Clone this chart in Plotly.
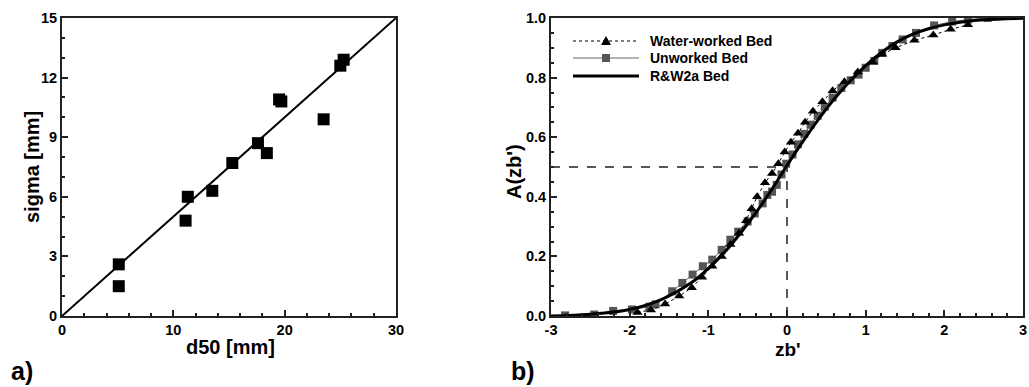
import plotly.graph_objects as go

# ---------------- Panel a data ----------------
d50 = [5.1, 5.1, 11.1, 11.3, 13.5, 15.3, 17.6, 18.4, 19.5, 19.7, 23.5, 25.0, 25.3]
sigma = [2.6, 1.5, 4.8, 6.0, 6.3, 7.7, 8.7, 8.2, 10.9, 10.8, 9.9, 12.6, 12.9]
fit_x = [0, 30]
fit_y = [0, 15]
a_xticks = [0, 10, 20, 30]
a_yticks = [0, 3, 6, 9, 12, 15]

# ---------------- Panel b data ----------------
ww_zb = [-1.90, -1.73, -1.55, -1.37, -1.21, -1.08, -0.95, -0.83, -0.72, -0.61, -0.52,
         -0.45, -0.38, -0.28, -0.19, -0.11, -0.03, 0.05, 0.14, 0.23, 0.33, 0.45, 0.58,
         0.73, 0.90, 1.09, 1.21, 1.38, 1.62, 1.86, 2.08, 2.30]
ww_A = [0.012, 0.02, 0.04, 0.067, 0.095, 0.13, 0.167, 0.20, 0.24, 0.278, 0.32,
        0.36, 0.40, 0.447, 0.478, 0.511, 0.55, 0.583, 0.613, 0.65, 0.687, 0.719, 0.756,
        0.786, 0.819, 0.852, 0.878, 0.90, 0.925, 0.943, 0.962, 0.977]

uw_zb = [-2.82, -2.45, -2.21, -1.97, -1.75, -1.67, -1.46, -1.33, -1.20, -1.07, -0.95,
         -0.83, -0.72, -0.62, -0.50, -0.41, -0.31, -0.25, -0.19, -0.13, -0.07, -0.01,
         0.07, 0.14, 0.22, 0.30, 0.39, 0.48, 0.58, 0.69, 0.81, 0.91, 1.00, 1.11, 1.21,
         1.34, 1.47, 1.64, 1.87, 2.10, 2.30, 2.55]
uw_A = [0.002, 0.005, 0.017, 0.022, 0.031, 0.039, 0.083, 0.111, 0.139, 0.167, 0.189,
        0.222, 0.256, 0.283, 0.317, 0.344, 0.378, 0.406, 0.417, 0.44, 0.475, 0.511,
        0.542, 0.576, 0.611, 0.642, 0.672, 0.702, 0.733, 0.765, 0.791, 0.81, 0.833,
        0.856, 0.883, 0.906, 0.928, 0.95, 0.975, 0.988, 0.995, 1.0]

rw_zb = [-3.0, -2.5, -2.0, -1.6, -1.2, -1.0, -0.8, -0.6, -0.4, -0.2, 0.0, 0.2, 0.4,
         0.6, 0.8, 1.0, 1.2, 1.4, 1.6, 1.8, 2.0, 2.2, 2.5, 3.0]
rw_A = [0.0, 0.006, 0.022, 0.055, 0.115, 0.16, 0.212, 0.275, 0.345, 0.422, 0.505, 0.585,
        0.66, 0.728, 0.788, 0.84, 0.884, 0.92, 0.946, 0.964, 0.977, 0.986, 0.994, 0.999]

ref_level = [0.5]
ref_zb = [0.0]
b_xticks = [-3, -2, -1, 0, 1, 2, 3]
b_yticks = [0.0, 0.2, 0.4, 0.6, 0.8, 1.0]
b_yticklabels = ["0.0", "0.2", "0.4", "0.6", "0.8", "1.0"]

legend_names = ["Water-worked Bed", "Unworked Bed", "R&W2a Bed"]

W, H = 1029, 387
FONT = "Liberation Sans, Arial, sans-serif"
AX = "#222222"


def px(x):
    return x / W


def py(y):
    return 1 - y / H


def bold(labels):
    return ["<b>%s</b>" % l for l in labels]


fig = go.Figure()

# Panel a
fig.add_trace(go.Scatter(x=fit_x, y=fit_y, mode="lines",
                         line=dict(color="black", width=2), xaxis="x", yaxis="y",
                         showlegend=False))
fig.add_trace(go.Scatter(x=d50, y=sigma, mode="markers",
                         marker=dict(symbol="square", size=12, color="black"),
                         xaxis="x", yaxis="y", showlegend=False))

# Panel b reference dashed lines
fig.add_trace(go.Scatter(x=[-3, ref_zb[0]], y=[ref_level[0], ref_level[0]], mode="lines",
                         line=dict(color="#222", width=1.5, dash="dash"),
                         xaxis="x2", yaxis="y2", showlegend=False))
fig.add_trace(go.Scatter(x=[ref_zb[0], ref_zb[0]], y=[0, ref_level[0]], mode="lines",
                         line=dict(color="#222", width=1.5, dash="dash"),
                         xaxis="x2", yaxis="y2", showlegend=False))

fig.add_trace(go.Scatter(x=uw_zb, y=uw_A, mode="lines+markers", name=legend_names[1],
                         line=dict(color="#666666", width=1),
                         marker=dict(symbol="square", size=8, color="#555555"),
                         xaxis="x2", yaxis="y2", showlegend=False))
fig.add_trace(go.Scatter(x=ww_zb, y=ww_A, mode="lines+markers", name=legend_names[0],
                         line=dict(color="black", width=1, dash="dot"),
                         marker=dict(symbol="triangle-up", size=9, color="black"),
                         xaxis="x2", yaxis="y2", showlegend=False))
fig.add_trace(go.Scatter(x=rw_zb, y=rw_A, mode="lines", name=legend_names[2],
                         line=dict(color="black", width=3, shape="spline"),
                         xaxis="x2", yaxis="y2", showlegend=False))

common_axis = dict(showline=True, linecolor=AX, linewidth=2, mirror=True,
                   ticks="inside", ticklen=6, tickwidth=1.5, tickcolor=AX,
                   showgrid=False, zeroline=False, automargin=False,
                   tickfont=dict(family=FONT, size=14.5, color="black"))

fig.update_layout(
    width=W, height=H,
    margin=dict(l=0, r=0, t=0, b=0),
    paper_bgcolor="white", plot_bgcolor="white",
    font=dict(family=FONT, color="black"),
    xaxis=dict(domain=[px(62), px(396)], range=[0, 30], anchor="y",
               tickvals=a_xticks, ticktext=bold([str(v) for v in a_xticks]),
               minor=dict(dtick=2, ticks="inside", ticklen=3, tickcolor=AX),
               **common_axis),
    yaxis=dict(domain=[py(316), py(18)], range=[0, 15], anchor="x",
               tickvals=a_yticks, ticktext=bold([str(v) for v in a_yticks]),
               minor=dict(dtick=1, ticks="inside", ticklen=3, tickcolor=AX),
               **common_axis),
    xaxis2=dict(domain=[px(551), px(1023)], range=[-3, 3], anchor="y2",
                tickvals=b_xticks, ticktext=bold([str(v) for v in b_xticks]),
                minor=dict(dtick=0.2, ticks="inside", ticklen=3, tickcolor=AX),
                **common_axis),
    yaxis2=dict(domain=[py(316), py(18)], range=[0, 1], anchor="x2",
                tickvals=b_yticks, ticktext=bold(b_yticklabels),
                minor=dict(dtick=0.05, ticks="inside", ticklen=3, tickcolor=AX),
                **common_axis),
)

ann = []
TF = dict(family=FONT, size=20, color="black", weight="bold")
base = dict(xref="paper", yref="paper", showarrow=False, xanchor="center", yanchor="middle",
            borderpad=0)
ann.append(dict(text="d50 [mm]", x=px(230), y=py(347), font=TF, **base))
ann.append(dict(text="sigma [mm]", x=px(32), y=py(167), font=TF, textangle=-90, **base))
ann.append(dict(text="zb'", x=px(788), y=py(349), font=dict(family=FONT, size=19, color="black", weight="bold"), **base))
ann.append(dict(text="A(zb')", x=px(514), y=py(172), font=TF, textangle=-90, **base))
ann.append(dict(text="a)", x=px(9), y=py(371), xref="paper", yref="paper", showarrow=False,
                xanchor="left", yanchor="middle",
                font=dict(family=FONT, size=25, color="black", weight="bold")))
ann.append(dict(text="b)", x=px(509), y=py(371), xref="paper", yref="paper", showarrow=False,
                xanchor="left", yanchor="middle",
                font=dict(family=FONT, size=25, color="black", weight="bold")))

# Legend (drawn manually)
leg_y = [41, 58, 76]
LX0, LX1, LMID, LTX = 573, 639, 606, 648
for name, yy in zip(legend_names, leg_y):
    ann.append(dict(text=name, x=px(LTX), y=py(yy), xref="paper", yref="paper",
                    showarrow=False, xanchor="left", yanchor="middle",
                    font=dict(family=FONT, size=14, color="black", weight="bold")))

shapes = [
    dict(type="line", xref="paper", yref="paper", x0=px(LX0), x1=px(LX1), y0=py(leg_y[0]), y1=py(leg_y[0]),
         line=dict(color="black", width=1, dash="dot")),
    dict(type="path", xref="paper", yref="paper",
         path="M %f,%f L %f,%f L %f,%f Z" % (px(LMID - 5), py(leg_y[0] + 4), px(LMID + 5), py(leg_y[0] + 4),
                                             px(LMID), py(leg_y[0] - 5)),
         fillcolor="black", line=dict(color="black", width=0)),
    dict(type="line", xref="paper", yref="paper", x0=px(LX0), x1=px(LX1), y0=py(leg_y[1]), y1=py(leg_y[1]),
         line=dict(color="#666666", width=1)),
    dict(type="rect", xref="paper", yref="paper", x0=px(LMID - 4), x1=px(LMID + 4),
         y0=py(leg_y[1] + 4), y1=py(leg_y[1] - 4), fillcolor="#555555", line=dict(width=0)),
    dict(type="line", xref="paper", yref="paper", x0=px(LX0), x1=px(LX1), y0=py(leg_y[2]), y1=py(leg_y[2]),
         line=dict(color="black", width=3)),
]

fig.update_layout(annotations=ann, shapes=shapes)

fig.write_html("out.html")
